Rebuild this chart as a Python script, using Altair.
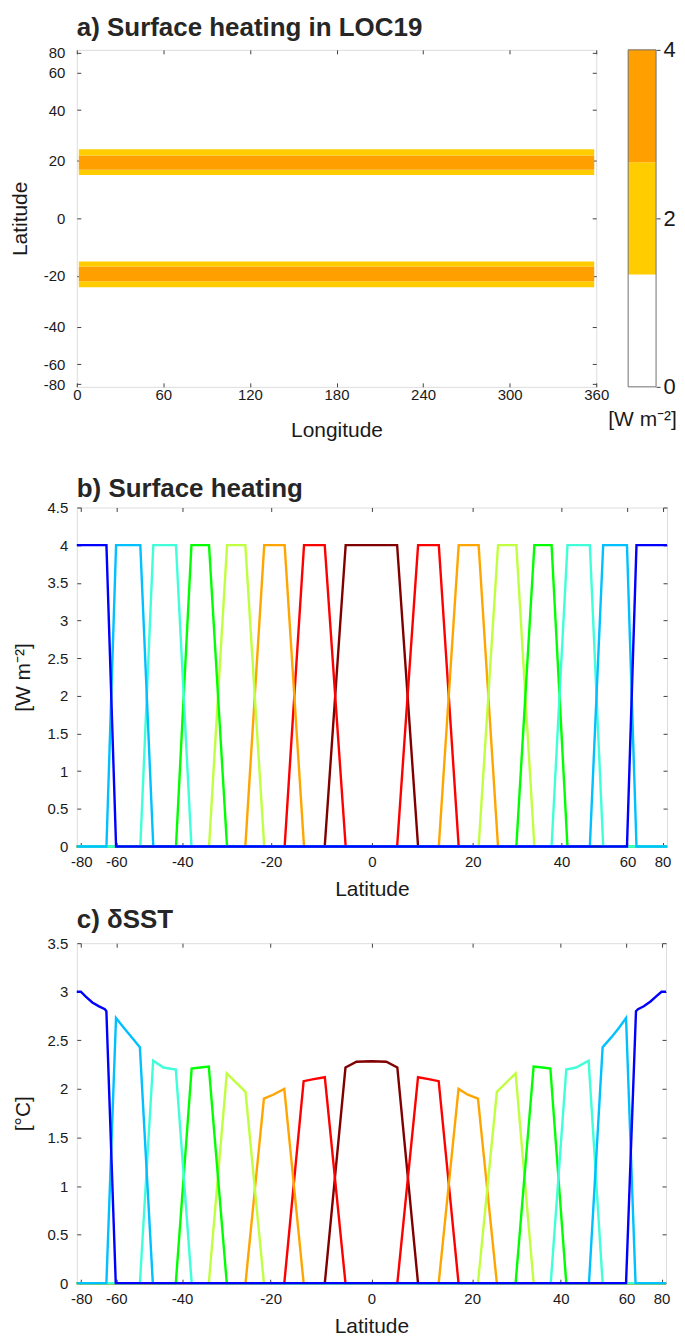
import altair as alt
import numpy as np
import pandas as pd

FONT = "Liberation Sans"
TXT = "#1a1a1a"
FRAME = "#707070"
TICKC = "#404040"

# ---------------- data ----------------
# panel a
lon_ticks = [0, 60, 120, 180, 240, 300, 360]
lat_ticks = [-80, -60, -40, -20, 0, 20, 40, 60, 80]
heat_lat_lo = [-24.1, -21.9, -16.6, 14.9, 16.8, 21.9]
heat_lat_hi = [-21.9, -16.6, -14.8, 16.8, 21.9, 24.2]
heat_val = [2, 4, 2, 2, 4, 2]
heat_lon_lo = [1.4] * 6
heat_lon_hi = [358.6] * 6
cb_lo = [0, 4 / 3, 8 / 3]
cb_hi = [4 / 3, 8 / 3, 4]
cb_val = [0.67, 2.0, 3.33]
cb_ticks = [0, 2, 4]
level_colors = ["#FFFFFF", "#FFCC00", "#FF9F00"]

# panels b and c: one entry per experiment, from equator to pole (drawing order)
exp_names = ["LOC00", "LOC11", "LOC19", "LOC27", "LOC35", "LOC43", "LOC55", "LOC70"]
exp_colors = ["#800000", "#FF0000", "#FFA500", "#C0FF40", "#00FF00", "#40FFD8", "#00C0FF", "#0000FF"]

heat_lat = {
    "LOC00": [-90, -9.2, -5.1, 4.9, 9.0, 90],
    "LOC11": [-90, -17.2, -13.3, -9.2, -5.1, 4.9, 9.0, 13.1, 17.1, 90],
    "LOC19": [-90, -25.4, -21.4, -17.2, -13.3, 13.1, 17.1, 21.2, 25.3, 90],
    "LOC27": [-90, -33.5, -29.4, -25.4, -21.4, 21.2, 25.3, 29.3, 33.4, 90],
    "LOC35": [-90, -41.6, -37.7, -33.5, -29.4, 29.3, 33.4, 37.5, 41.5, 90],
    "LOC43": [-90, -51.7, -47.8, -41.6, -37.7, 37.5, 41.5, 47.6, 51.6, 90],
    "LOC55": [-90, -64.1, -60.1, -51.7, -47.8, 47.6, 51.6, 59.8, 63.7, 90],
    "LOC70": [-90, -64.1, -60.1, 59.8, 63.7, 90],
}
heat_val_b = {
    "LOC00": [0, 0, 4, 4, 0, 0],
    "LOC11": [0, 0, 4, 4, 0, 0, 4, 4, 0, 0],
    "LOC19": [0, 0, 4, 4, 0, 0, 4, 4, 0, 0],
    "LOC27": [0, 0, 4, 4, 0, 0, 4, 4, 0, 0],
    "LOC35": [0, 0, 4, 4, 0, 0, 4, 4, 0, 0],
    "LOC43": [0, 0, 4, 4, 0, 0, 4, 4, 0, 0],
    "LOC55": [0, 0, 4, 4, 0, 0, 4, 4, 0, 0],
    "LOC70": [4, 4, 0, 0, 4, 4],
}

sst_lat = {
    "LOC00": [-90, -9.1, -5.05, -2.9, 0, 2.9, 5.05, 9.1, 90],
    "LOC11": [-90, -17.2, -13.3, -11.3, -9.1, -5.05, 5.05, 9.1, 11.2, 13.2, 17.2, 90],
    "LOC19": [-90, -25.3, -21.4, -19.5, -17.2, -13.3, 13.2, 17.2, 19.1, 21.2, 25.2, 90],
    "LOC27": [-90, -33.5, -29.4, -25.3, -21.4, 21.2, 25.2, 29.3, 33.4, 90],
    "LOC35": [-90, -41.6, -37.6, -35.5, -33.5, -29.4, 29.3, 33.4, 35.5, 37.4, 41.4, 90],
    "LOC43": [-90, -51.8, -47.8, -44.9, -41.6, -37.6, 37.5, 41.4, 44.0, 47.5, 51.7, 90],
    "LOC55": [-90, -64.1, -60.1, -57.2, -54.4, -51.8, -47.9, 47.6, 51.7, 54.5, 57.2, 59.8, 63.7, 90],
    "LOC70": [-90, -80.5, -75.8, -71.3, -67.6, -64.8, -64.1, -60.2, 59.8, 63.9, 64.8, 67.6, 71.3, 75.8, 80.0, 90],
}
sst_val = {
    "LOC00": [0, 0, 2.22, 2.28, 2.285, 2.28, 2.22, 0, 0],
    "LOC11": [0, 0, 2.08, 2.10, 2.12, 0, 0, 2.12, 2.10, 2.08, 0, 0],
    "LOC19": [0, 0, 1.90, 1.94, 2.00, 0, 0, 2.00, 1.94, 1.90, 0, 0],
    "LOC27": [0, 0, 2.16, 1.97, 0, 0, 1.97, 2.16, 0, 0],
    "LOC35": [0, 0, 2.21, 2.22, 2.23, 0, 0, 2.23, 2.22, 2.21, 0, 0],
    "LOC43": [0, 0, 2.29, 2.22, 2.20, 0, 0, 2.20, 2.22, 2.29, 0, 0],
    "LOC55": [0, 0, 2.73, 2.63, 2.53, 2.43, 0, 0, 2.43, 2.53, 2.63, 2.73, 0, 0],
    "LOC70": [3.0, 3.0, 2.95, 2.89, 2.85, 2.82, 2.80, 0, 0, 2.80, 2.82, 2.85, 2.90, 2.96, 3.0, 3.0],
}
b_yticks = [0, 0.5, 1, 1.5, 2, 2.5, 3, 3.5, 4, 4.5]
c_yticks = [0, 0.5, 1, 1.5, 2, 2.5, 3, 3.5]


def sinlat(v):
    return np.sin(np.deg2rad(np.asarray(v, dtype=float)))


def long_df(lats, vals):
    rows = []
    for k, name in enumerate(exp_names):
        for i, (la, va) in enumerate(zip(lats[name], vals[name])):
            rows.append({"exp": name, "rank": k, "i": i, "lat": la, "s": float(sinlat(la)), "v": va})
    return pd.DataFrame(rows)


heat_df = pd.DataFrame({
    "lon0": heat_lon_lo, "lon1": heat_lon_hi,
    "s0": sinlat(heat_lat_lo), "s1": sinlat(heat_lat_hi), "val": heat_val,
})
cb_df = pd.DataFrame({"lo": cb_lo, "hi": cb_hi, "val": cb_val})
b_df = long_df(heat_lat, heat_val_b)
c_df = long_df(sst_lat, sst_val)

sin_ticks = [float(x) for x in sinlat(lat_ticks)]
lat_label = "'' + round(asin(datum.value) * 180 / PI)"
num_label = "'' + datum.value"

# ---------------- helpers ----------------
TICK_LEN = 4


def label_axis(values, title, label_expr, orient, title_pad, label_pad):
    return alt.Axis(
        orient=orient, values=values, title=title, labelExpr=label_expr,
        ticks=False, tickSize=0, domain=False, grid=False,
        labelFont=FONT, labelFontSize=15, labelColor=TXT, labelPadding=label_pad,
        labelFlush=False, labelOverlap=False,
        titleFont=FONT, titleFontSize=21, titleFontWeight="normal", titleColor=TXT,
        titlePadding=title_pad,
    )


def tick_axis(values, orient, offset):
    return alt.Axis(
        orient=orient, offset=offset, values=values, labels=False, title=None,
        ticks=True, tickSize=TICK_LEN, tickColor=TICKC, tickWidth=1,
        domain=False, grid=False, minExtent=0,
    )


def panel_title(text, offset, line_height=None):
    kw = dict(
        text=text, anchor="start", frame="group", font=FONT, fontSize=26,
        fontWeight="bold", color="#262626", offset=offset,
    )
    if line_height is not None:
        kw["lineHeight"] = line_height
    return alt.TitleParams(**kw)


# ---------------- panel a ----------------
WA, HA = 521, 338
CB_X0, CB_X1 = 553, 581
xs_a = alt.Scale(domain=[0, 360], nice=False, zero=False)
ys_a = alt.Scale(domain=[-1, 1], nice=False, zero=False)
col_a = alt.Color(
    "val:Q", legend=None,
    scale=alt.Scale(type="threshold", domain=[4 / 3, 8 / 3], range=level_colors),
)

heat = alt.Chart(heat_df).mark_rect().encode(
    x=alt.X("lon0:Q", scale=xs_a,
            axis=label_axis(lon_ticks, "Longitude", num_label, "bottom", 17, 1)),
    x2="lon1:Q",
    y=alt.Y("s0:Q", scale=ys_a,
            axis=label_axis(sin_ticks, "Latitude", lat_label, "left", 13, 12)),
    y2="s1:Q",
    color=col_a,
)
a_ticks1 = alt.Chart(heat_df).mark_rect(opacity=0).encode(
    x=alt.X("lon0:Q", scale=xs_a, axis=tick_axis(lon_ticks, "top", -HA)), x2="lon1:Q",
    y=alt.Y("s0:Q", scale=ys_a, axis=tick_axis(sin_ticks, "right", -WA)), y2="s1:Q",
)
a_ticks2 = alt.Chart(heat_df).mark_rect(opacity=0).encode(
    x=alt.X("lon0:Q", scale=xs_a, axis=tick_axis(lon_ticks, "bottom", -HA)), x2="lon1:Q",
    y=alt.Y("s0:Q", scale=ys_a, axis=tick_axis(sin_ticks, "left", -WA)), y2="s1:Q",
)
xs_cb = alt.Scale(domain=[0, 1], range=[CB_X0, CB_X1], nice=False, zero=False)
ys_cb = alt.Scale(domain=[0, 4], nice=False, zero=False)
cbar = alt.Chart(cb_df).mark_rect().encode(
    x=alt.X(datum=0, type="quantitative", scale=xs_cb,
            axis=alt.Axis(orient="bottom", labels=False, ticks=False, domain=False, grid=False,
                          title="[W m⁻²]", titleFont=FONT, titleFontSize=21,
                          titleFontWeight="normal", titleColor=TXT, titlePadding=22)),
    x2=alt.X2(datum=1),
    y=alt.Y("lo:Q", scale=ys_cb,
            axis=alt.Axis(orient="right", offset=CB_X1 - WA, values=cb_ticks,
                          labelExpr=num_label, ticks=True, tickSize=4, tickColor=TICKC,
                          domain=False, grid=False, labelFont=FONT, labelFontSize=22,
                          labelColor=TXT, labelPadding=3, labelFlush=False,
                          labelOverlap=False, title=None)),
    y2="hi:Q",
    color=col_a,
)
cframe = alt.Chart(cb_df).mark_rect(fill=None, stroke=FRAME, strokeWidth=1).encode(
    x=alt.X(datum=0, type="quantitative", scale=xs_cb, axis=None),
    x2=alt.X2(datum=1),
    y=alt.Y("min(lo):Q", scale=ys_cb, axis=None),
    y2="max(hi):Q",
)

panel_a = alt.layer(heat, a_ticks1, a_ticks2, cbar, cframe).resolve_scale(
    x="independent", y="independent", color="independent"
).resolve_axis(x="independent", y="independent").properties(
    width=WA, height=HA, title=panel_title("a) Surface heating in LOC19", -2)
)


# ---------------- panels b, c ----------------
def line_panel(df, yticks, ymax, ytitle, ytitle_pad, title, title_offset, w, h, line_height=None):
    xs = alt.Scale(domain=[-1, 1], nice=False, zero=False)
    ys = alt.Scale(domain=[0, ymax], nice=False, zero=False)
    lines = alt.Chart(df).mark_line(strokeWidth=2.4, clip=False).encode(
        x=alt.X("s:Q", scale=xs,
                axis=label_axis(sin_ticks, "Latitude", lat_label, "bottom", 9, 8)),
        y=alt.Y("v:Q", scale=ys,
                axis=label_axis(yticks, ytitle, num_label, "left", ytitle_pad, 9)),
        color=alt.Color("exp:N", legend=None,
                        scale=alt.Scale(domain=exp_names, range=exp_colors)),
        order=alt.Order("i:Q"),
    )
    t1 = alt.Chart(df).mark_line(opacity=0).encode(
        x=alt.X("s:Q", scale=xs, axis=tick_axis(sin_ticks, "top", -h)),
        y=alt.Y("v:Q", scale=ys, axis=tick_axis(yticks, "right", -w)),
        detail="exp:N",
    )
    t2 = alt.Chart(df).mark_line(opacity=0).encode(
        x=alt.X("s:Q", scale=xs, axis=tick_axis(sin_ticks, "bottom", -h)),
        y=alt.Y("v:Q", scale=ys, axis=tick_axis(yticks, "left", -w)),
        detail="exp:N",
    )
    return alt.layer(t1, t2, lines).resolve_axis(x="independent", y="independent").properties(
        width=w, height=h, title=panel_title(title, title_offset, line_height)
    )


panel_b = line_panel(b_df, b_yticks, 4.5, "[W m⁻²]", 14, ["", "b) Surface heating"], -1,
                     592, 340, line_height=27)
panel_c = line_panel(c_df, c_yticks, 3.5, "[°C]", 14, "c) δSST", 3, 591, 341)

chart = alt.vconcat(panel_a, panel_b, panel_c, spacing=6).properties(
    padding={"left": 0, "top": 4, "right": 0, "bottom": 0}
).configure_view(stroke=FRAME, strokeWidth=1).configure(background="white")

chart.save("out.html", embed_options={"renderer": "svg", "actions": False})
